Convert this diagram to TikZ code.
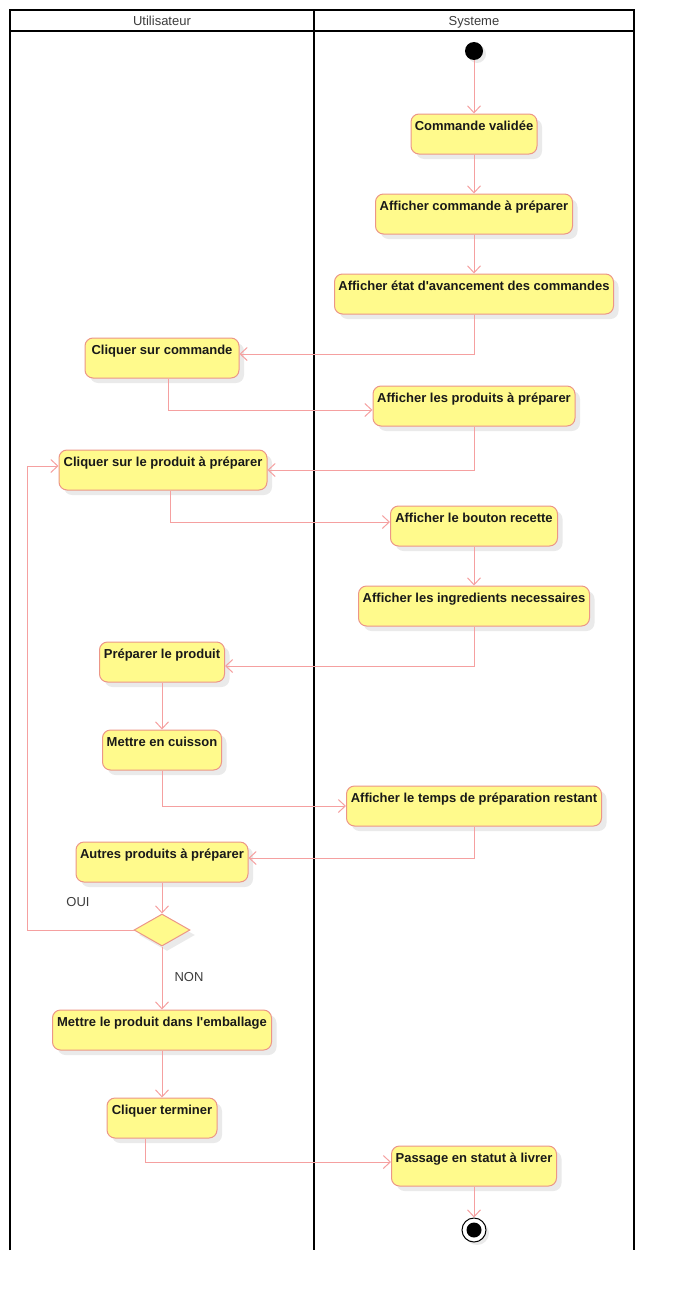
\documentclass[tikz,border=0pt]{standalone}
\usepackage{fontspec}
\setmainfont{Liberation Sans}
\usetikzlibrary{arrows.meta,shapes.geometric,shadows}
\definecolor{actfill}{RGB}{255,250,140}
\definecolor{actdraw}{RGB}{236,150,135}
\definecolor{flowc}{RGB}{245,160,160}
\definecolor{shadowc}{RGB}{234,234,234}
\definecolor{hdr}{RGB}{60,60,60}
\begin{document}
\begin{tikzpicture}[x=1pt,y=-1pt,
  act/.style={rectangle, rounded corners=8pt, draw=actdraw, line width=1pt, fill=actfill,
    font=\fontsize{13pt}{15pt}\selectfont\bfseries, text=black!90,
    inner xsep=0pt, inner ysep=3.5pt, text height=13pt, text depth=20pt, minimum height=40pt,
    drop shadow={shadow xshift=5pt, shadow yshift=-5pt, fill=shadowc, opacity=1}},
  flow/.style={draw=flowc, line width=1pt, -{Straight Barb[length=7pt,width=13pt]}},
  lane/.style={draw=black, line width=2pt},
  hdrtext/.style={font=\fontsize{13pt}{15pt}\selectfont, text=hdr, anchor=base, inner sep=0pt},
  lbl/.style={font=\fontsize{13pt}{15pt}\selectfont, text=hdr}]
\useasboundingbox (0,0) rectangle (674,1290);
% swimlanes
\draw[lane] (10,1250) -- (10,10) -- (634,10) -- (634,1250);
\draw[lane] (314,10) -- (314,1250);
\draw[lane] (10,31) -- (634,31);
\node[hdrtext] (hu) at (162,25.5) {Utilisateur};
\node[hdrtext] (hs) at (474,25.5) {Systeme};
% start
\node[circle, fill=black, minimum size=18pt, inner sep=0pt,
  drop shadow={shadow xshift=3pt, shadow yshift=-3pt, fill=shadowc, opacity=1}] (start) at (474,51) {};
% activities
\node[act, minimum width=126pt] (cv) at (474,134) {Commande validée};
\node[act, minimum width=197pt] (acp) at (474,214) {Afficher commande à préparer};
\node[act, minimum width=279pt] (aea) at (474,294) {Afficher état d\textquotesingle avancement des commandes};
\node[act, minimum width=154pt] (csc) at (162,358) {Cliquer sur commande};
\node[act, minimum width=202pt] (ap) at (474,406) {Afficher les produits à préparer};
\node[act, minimum width=208pt] (cp) at (163,470) {Cliquer sur le produit à préparer};
\node[act, minimum width=167pt] (br) at (474,526) {Afficher le bouton recette};
\node[act, minimum width=231pt] (ing) at (474,606) {Afficher les ingredients necessaires};
\node[act, minimum width=125pt] (pp) at (162,662) {Préparer le produit};
\node[act, minimum width=119pt] (mc) at (162,750) {Mettre en cuisson};
\node[act, minimum width=255pt] (tp) at (474,806) {Afficher le temps de préparation restant};
\node[act, minimum width=172pt] (ap2) at (162,862) {Autres produits à préparer};
\node[diamond, draw=actdraw, fill=actfill, line width=1pt, minimum width=56pt, minimum height=32pt, inner sep=0pt,
  drop shadow={shadow xshift=5pt, shadow yshift=-5pt, fill=shadowc, opacity=1}] (dec) at (162,930) {};
\node[act, minimum width=219pt] (emb) at (162,1030) {Mettre le produit dans l\textquotesingle emballage};
\node[act, minimum width=110pt] (ct) at (162,1118) {Cliquer terminer};
\node[act, minimum width=165pt] (pl) at (474,1166) {Passage en statut à livrer};
% end
\node[circle, draw=black, fill=white, line width=1pt, minimum size=24pt, inner sep=0pt,
  drop shadow={shadow xshift=3pt, shadow yshift=-3pt, fill=shadowc, opacity=1}] (fin) at (474,1230) {};
\node[circle, fill=black, minimum size=15pt, inner sep=0pt] (fincore) at (474,1230) {};
% labels
\node[lbl] (oui) at (78,902) {OUI};
\node[lbl] (non) at (189,977) {NON};
% flows
\draw[flow] (start) -- (cv);
\draw[flow] (cv) -- (acp);
\draw[flow] (acp) -- (aea);
\draw[flow] (aea.south) |- ([yshift=4pt]csc.east);
\draw[flow] ([xshift=6pt]csc.south) |- ([yshift=-4pt]ap.west);
\draw[flow] (ap.south) |- (cp.east);
\draw[flow] ([xshift=7pt]cp.south) |- ([yshift=4pt]br.west);
\draw[flow] (br) -- (ing);
\draw[flow] (ing.south) |- ([yshift=-4pt]pp.east);
\draw[flow] (pp) -- (mc);
\draw[flow] (mc.south) |- (tp.west);
\draw[flow] (tp.south) |- ([yshift=4pt]ap2.east);
\draw[flow] (ap2) -- (dec);
\draw[flow] (dec.west) -| (27,466) -- ([yshift=4pt]cp.west);
\draw[flow] (dec) -- (emb);
\draw[flow] (emb) -- (ct);
\draw[flow] ([xshift=-17pt]ct.south) |- ([yshift=4pt]pl.west);
\draw[flow] (pl) -- (fin);
\end{tikzpicture}
\end{document}
